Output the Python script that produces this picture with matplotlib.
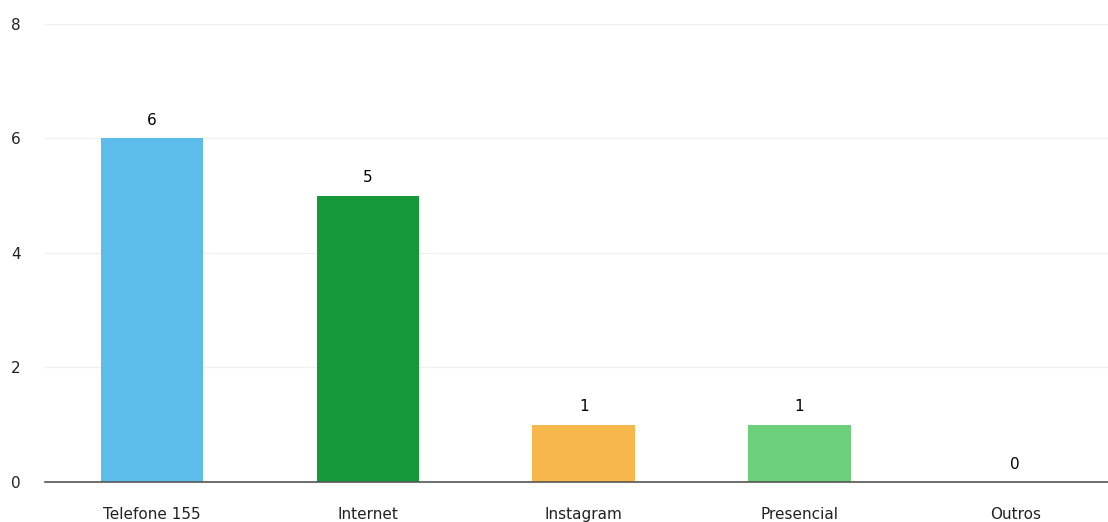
import matplotlib
matplotlib.use("Agg")
import matplotlib.pyplot as plt

### Data
categories = ["Telefone 155", "Internet", "Instagram", "Presencial", "Outros"]
values = [6, 5, 1, 1, 0]
colors = ["#5cbdea", "#15983a", "#f8b74b", "#6bcf7b", "#6bcf7b"]
y_ticks = [0, 2, 4, 6, 8]

### Figure
fig = plt.figure(figsize=(11.08, 5.22), dpi=100)
ax = fig.add_axes([0.041, 0.077, 0.959, 0.877])

x = list(range(len(categories)))
bars = ax.bar(x, values, width=0.475, color=colors, zorder=2)

for xi, v in zip(x, values):
    ax.text(xi, v + 0.18, str(v), ha="center", va="bottom",
            fontsize=11, color="black")

ax.set_xlim(-0.495, 4.43)
ax.set_ylim(0, 8)
ax.set_yticks(y_ticks)
ax.set_xticks(x)
ax.set_xticklabels(categories, fontsize=11, color="#222222")
ax.tick_params(axis="y", labelsize=11, length=0, pad=18, labelcolor="#222222")
ax.tick_params(axis="x", length=0, pad=18)

ax.grid(axis="y", color="#f0f0f0", lw=1, zorder=0)
for s in ["top", "right", "left"]:
    ax.spines[s].set_visible(False)
ax.spines["bottom"].set_color("#555555")
ax.spines["bottom"].set_linewidth(1.2)

fig.savefig("out.png", dpi=100)
